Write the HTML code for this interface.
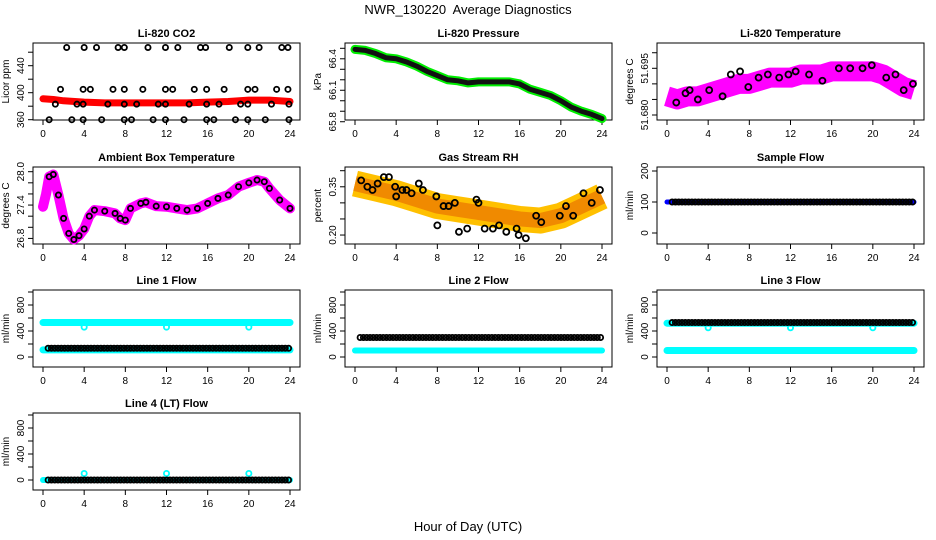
<!DOCTYPE html>
<html><head><meta charset="utf-8"><style>
html,body{margin:0;padding:0;background:#fff}
svg{display:block;font-family:"Liberation Sans",sans-serif}
</style></head><body>
<svg id="chart" width="936" height="540" viewBox="0 0 936 540">
<text x="468" y="14" text-anchor="middle" font-size="13">NWR_130220&#160; Average Diagnostics</text>
<text x="468" y="531" text-anchor="middle" font-size="13">Hour of Day (UTC)</text>
</svg>
<script>
// ---- data ----
const co2Hours475=[2.3,4.0,5.2,7.3,7.9,10.2,11.9,13.1,15.3,15.8,18.1,19.9,21.0,23.2,23.8];
const co2Hours405=[1.7,3.9,4.6,6.8,7.9,9.7,11.9,12.6,14.7,15.9,17.6,19.9,20.6,22.7,23.8];
const co2Hours383=[1.2,3.3,3.9,6.3,7.9,9.1,11.2,11.9,14.2,15.9,17.1,19.2,19.9,22.2,23.9];
const co2Hours360=[0.6,2.8,3.9,5.7,7.9,8.6,10.7,11.9,13.7,15.9,16.6,18.7,19.9,21.6,23.9];
const co2Levels=[467,405,383,360];
const co2RedHours=[0,1,2,4,6,8,10,12,14,16,18,20,22,24];
const co2RedVals=[391,390,388,386,385,385,385,385,385,386,387,389,389,387];

const presHours=[0,1,2,3,4,5,6,7,8,9,10,11,12,13,14,15,16,17,18,19,20,21,22,23,24];
const presVals=[66.49,66.48,66.45,66.41,66.40,66.37,66.33,66.28,66.24,66.20,66.19,66.17,66.18,66.18,66.18,66.18,66.16,66.11,66.08,66.05,66.00,65.94,65.90,65.87,65.83];

const tempHours=[0,1,2,3,4,5,6,7,8,9,10,11,12,13,14,15,16,17,18,19,20,21,22,23,24];
const tempVals=[51.686,51.685,51.686,51.686,51.687,51.688,51.689,51.690,51.690,51.691,51.692,51.692,51.692,51.693,51.693,51.693,51.694,51.694,51.694,51.694,51.694,51.693,51.691,51.689,51.688];
const tempBlackHours=[0.9,1.8,2.2,3.0,4.1,5.4,6.2,7.1,7.9,8.9,9.8,10.9,11.8,12.5,13.8,15.1,16.7,17.8,19.0,19.9,21.3,22.2,23.0,23.9];
const tempBlackVals=[51.684,51.687,51.688,51.685,51.688,51.686,51.693,51.694,51.689,51.692,51.693,51.692,51.693,51.694,51.693,51.691,51.695,51.695,51.695,51.696,51.692,51.693,51.688,51.690];

const ambHours=[0,0.3,0.6,1,1.5,2,2.5,3,3.5,4,4.5,5,6,7,7.5,8,8.5,9.5,10,11,12,13,14,15,16,17,18,19,20,20.8,21.5,22,23,24];
const ambVals=[27.37,27.6,27.91,27.95,27.58,27.16,26.89,26.78,26.85,26.97,27.2,27.31,27.29,27.25,27.16,27.13,27.34,27.43,27.45,27.38,27.37,27.34,27.31,27.34,27.43,27.52,27.58,27.73,27.8,27.85,27.82,27.7,27.49,27.34];

const rhHours=[0,2,4,6,8,10,12,14,16,18,20,22,24];
const rhVals=[0.36,0.345,0.33,0.31,0.29,0.28,0.27,0.26,0.25,0.245,0.26,0.29,0.32];
const rhBlackHours=[0.6,1.2,1.7,2.2,2.8,3.3,3.9,4.0,4.6,5.0,5.5,6.2,6.6,7.9,8.0,8.6,9.1,9.7,10.1,10.9,11.8,12.0,12.6,13.4,14.0,14.7,15.7,15.9,16.6,17.6,18.1,19.9,20.5,21.2,22.2,23.0,23.8];
const rhBlackVals=[0.37,0.35,0.34,0.36,0.38,0.38,0.35,0.32,0.34,0.34,0.33,0.36,0.34,0.32,0.23,0.29,0.29,0.30,0.21,0.22,0.31,0.30,0.22,0.22,0.23,0.21,0.22,0.20,0.19,0.26,0.24,0.26,0.29,0.26,0.33,0.30,0.34];

const flowLevels={sample:100};
const line1Cyan=[530,110];const line1Black=135;const line1Dips=[4,12,20];const line1DipVal=460;
const line2Cyan=[100];const line2Black=300;
const line3Cyan=[520,100];const line3Black=530;const line3Dips=[4,12,20];const line3DipVal=450;
const line4Cyan=[0];const line4Black=0;const line4Spikes=[4,12,20];const line4SpikeVal=100;

// ---- drawing ----
const svg=document.getElementById('chart');
const NS='http://www.w3.org/2000/svg';
function el(tag,attrs,parent){const e=document.createElementNS(NS,tag);for(const k in attrs)e.setAttribute(k,attrs[k]);(parent||svg).appendChild(e);return e;}
const TOPS=[43,167,290,413],H=77,W=267;
function panel(name,col,row,title,ytitle,v0,y0,k,ticks,labels){
  const L=33+312*col,T=TOPS[row];
  const g=el('g',{});
  
  
  const p={L,T,g,x:h=>L+10+h*(247/24),y:v=>y0+(v-v0)*k};
  const t=el('text',{x:L+W/2,y:T-6,'text-anchor':'middle','font-size':11,'font-weight':'bold'},g);t.textContent=title;
  
  const b=el('rect',{x:L,y:T,width:W,height:H,fill:'none',stroke:'#000','stroke-width':1},g);
  
  const xa=el('g',{},g);
  for(let h=0;h<=24;h+=4){const X=p.x(h);el('line',{x1:X,x2:X,y1:T+H,y2:T+H+5,stroke:'#000'},xa);
    const tl=el('text',{x:X,y:T+H+17,'text-anchor':'middle','font-size':10},xa);tl.textContent=h;}
  const ya=el('g',{},g);
  ticks.forEach(v=>{const Y=p.y(v);el('line',{x1:L-5,x2:L,y1:Y,y2:Y,stroke:'#000'},ya);});
  labels.forEach(v=>{const Y=p.y(v);const tl=el('text',{x:L-9,y:Y,'text-anchor':'middle','font-size':10,transform:`rotate(-90 ${L-9} ${Y})`},ya);tl.textContent=v;});
  const yt=el('text',{x:L-24,y:T+H/2,'text-anchor':'middle','font-size':10,transform:`rotate(-90 ${L-24} ${T+H/2})`},g);yt.textContent=ytitle;
  
  return p;
}
function band(p,hs,vs,color,w,name,cap){const pts=hs.map((h,i)=>p.x(h)+','+p.y(vs[i])).join(' ');
  const e=el('polyline',{points:pts,fill:'none',stroke:color,'stroke-width':w,'stroke-linejoin':'round','stroke-linecap':cap||'round'},p.g);
  return e;}
function pt(p,h,v,color,name,r){const c=el('circle',{cx:p.x(h),cy:p.y(v),r:r||2.6,fill:'none',stroke:color,'stroke-width':1.8},p.g);
  return c;}
function flat(p,v,color,w,name){band(p,[0,24],[v,v],color,w,name);}
function blackRow(p,v,name){for(let h=0.5;h<=24.01;h+=0.32)pt(p,h,v,'#000',name);}
function rng(a,b,s){const r=[];for(let v=a;v<=b+1e-9;v+=s)r.push(+v.toFixed(4));return r;}

// CO2
let p=panel('co2',0,0,'Li-820 CO2','Licor ppm',400,92.7,-0.675,rng(360,460,20),[360,400,440]);
band(p,co2RedHours,co2RedVals,'#ff0000',7,'co2-red-series');
[co2Hours475,co2Hours405,co2Hours383,co2Hours360].forEach((hs,i)=>hs.forEach(h=>pt(p,h,co2Levels[i],'#000','co2-black-point')));
// Pressure
p=panel('pressure',1,0,'Li-820 Pressure','kPa',66.5,48.3,-104.9,rng(65.8,66.5,0.1),['65.8','66.1','66.4']);
band(p,presHours,presVals,'#00ee00',9,'pressure-green-series');
band(p,presHours,presVals,'#111',5,'pressure-black-series');
// Temperature
p=panel('temperature',2,0,'Li-820 Temperature','degrees C',51.695,68.3,-3113,rng(51.680,51.700,0.005),['51.680','51.695']);
band(p,tempHours,tempVals,'#ff00ff',20,'temperature-magenta-series','butt');
tempBlackHours.forEach((h,i)=>pt(p,h,tempBlackVals[i],'#000','temperature-black-point',3));
// Ambient
p=panel('ambient',0,1,'Ambient Box Temperature','degrees C',28.0,171.7,-55.6,rng(26.8,28.0,0.2),['26.8','27.4','28.0']);
band(p,ambHours,ambVals,'#ff00ff',10,'ambient-magenta-series');
ambHours.forEach((h,i)=>{if(h>=0.6)pt(p,h,ambVals[i],'#000','ambient-black-point');});
// RH
p=panel('rh',1,1,'Gas Stream RH','percent',0.40,170.7,-321.7,rng(0.20,0.40,0.05),['0.20','0.35']);
band(p,rhHours,rhVals,'#ffc000',26,'rh-yellow-series','butt');
band(p,rhHours,rhVals,'#f08a00',15,'rh-orange-series','butt');
rhBlackHours.forEach((h,i)=>pt(p,h,rhBlackVals[i],'#000','rh-black-point',3));
// Sample Flow
p=panel('sample-flow',2,1,'Sample Flow','ml/min',100,202,-0.31,[0,100,200],[0,100,200]);
flat(p,flowLevels.sample,'#0000ff',5,'sample-flow-blue-series');blackRow(p,flowLevels.sample,'sample-flow-black-point');
// Line 1
const fl=[0,200,400,600,800,1000],fll=[0,400,800];
p=panel('line1-flow',0,2,'Line 1 Flow','ml/min',0,357,-0.065,fl,fll);
line1Cyan.forEach(v=>flat(p,v,'#00ffff',7,'line1-cyan-series'));line1Dips.forEach(h=>pt(p,h,line1DipVal,'#00ffff','line1-cyan-point'));
blackRow(p,line1Black,'line1-black-point');
// Line 2
p=panel('line2-flow',1,2,'Line 2 Flow','ml/min',0,357,-0.065,fl,fll);
line2Cyan.forEach(v=>flat(p,v,'#00ffff',6,'line2-cyan-series'));blackRow(p,line2Black,'line2-black-point');
// Line 3
p=panel('line3-flow',2,2,'Line 3 Flow','ml/min',0,357,-0.065,fl,fll);
line3Cyan.forEach(v=>flat(p,v,'#00ffff',7,'line3-cyan-series'));line3Dips.forEach(h=>pt(p,h,line3DipVal,'#00ffff','line3-cyan-point'));
blackRow(p,line3Black,'line3-black-point');
// Line 4
p=panel('line4-flow',0,3,'Line 4 (LT) Flow','ml/min',0,480,-0.065,fl,fll);
line4Cyan.forEach(v=>flat(p,v,'#00ffff',6,'line4-cyan-series'));line4Spikes.forEach(h=>pt(p,h,line4SpikeVal,'#00ffff','line4-cyan-point'));
blackRow(p,line4Black,'line4-black-point');
</script>
</body></html>
